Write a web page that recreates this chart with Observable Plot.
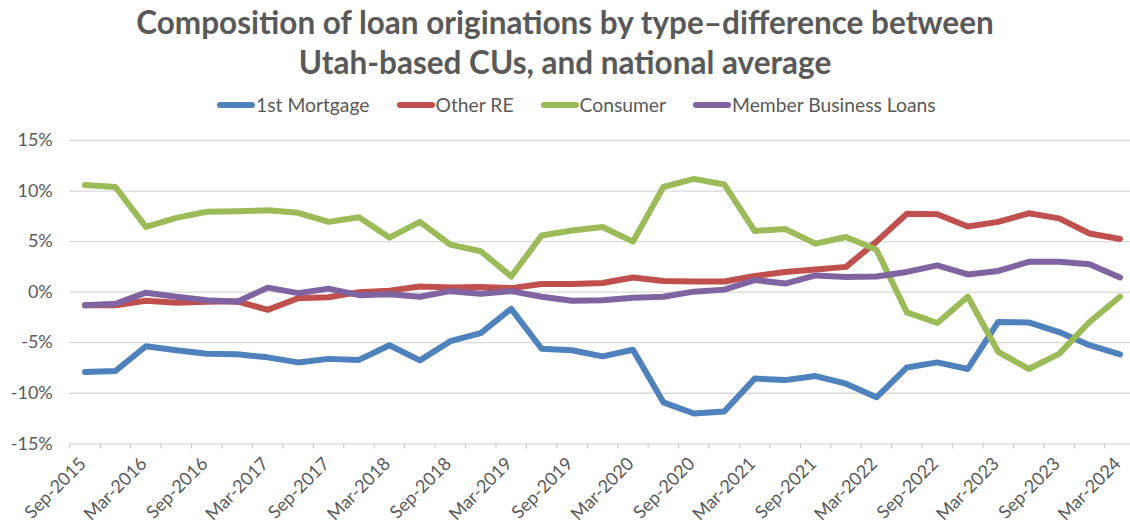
<!DOCTYPE html>
<html>
<head>
<meta charset="utf-8">
<script src="https://cdn.jsdelivr.net/npm/d3@7"></script>
<script src="https://cdn.jsdelivr.net/npm/@observablehq/plot@0.6"></script>
<style>
  html, body { margin: 0; padding: 0; background: #fff; }
  #wrap { position: relative; width: 1130px; height: 525px; overflow: hidden; font-family: Lato, "Open Sans", sans-serif; }
  #title { position: absolute; left: 0; top: 2px; width: 1130px; text-align: center; font-weight: 700; font-size: 31.5px; line-height: 40px; color: #595959; }
  #legend { position: absolute; left: 217px; top: 93px; display: flex; align-items: center; font-size: 19.3px; color: #595959; white-space: nowrap; }
  .item { display: flex; align-items: center; margin-right: 27px; }
  .sw { width: 38px; height: 6px; border-radius: 3px; margin-right: 1px; }
  #plot { position: absolute; left: 0; top: 120px; }
</style>
</head>
<body>
<div id="wrap">
  <div id="title">Composition of loan originations by type–difference between<br>Utah-based CUs, and national average</div>
  <div id="legend"></div>
  <div id="plot"></div>
</div>
<script>
const categories = ["Sep-2015","Dec-2015","Mar-2016","Jun-2016","Sep-2016","Dec-2016","Mar-2017","Jun-2017","Sep-2017","Dec-2017","Mar-2018","Jun-2018","Sep-2018","Dec-2018","Mar-2019","Jun-2019","Sep-2019","Dec-2019","Mar-2020","Jun-2020","Sep-2020","Dec-2020","Mar-2021","Jun-2021","Sep-2021","Dec-2021","Mar-2022","Jun-2022","Sep-2022","Dec-2022","Mar-2023","Jun-2023","Sep-2023","Dec-2023","Mar-2024"];
const seriesNames = ["1st Mortgage", "Other RE", "Consumer", "Member Business Loans"];
const seriesColors = ["#4f81bd", "#c0504d", "#9bbb59", "#8064a2"];
const mortgage = [-7.9,-7.8,-5.35,-5.75,-6.1,-6.15,-6.45,-6.95,-6.6,-6.7,-5.25,-6.75,-4.85,-4.05,-1.65,-5.6,-5.75,-6.35,-5.7,-10.9,-12.0,-11.8,-8.55,-8.7,-8.3,-9.05,-10.4,-7.45,-6.95,-7.6,-2.95,-3.0,-3.95,-5.25,-6.15];
const otherRE = [-1.3,-1.3,-0.85,-1.05,-0.95,-0.9,-1.75,-0.6,-0.5,0.0,0.15,0.55,0.45,0.5,0.4,0.8,0.8,0.9,1.45,1.1,1.05,1.05,1.6,2.0,2.25,2.5,5.0,7.75,7.7,6.5,6.95,7.8,7.3,5.8,5.25];
const consumer = [10.6,10.4,6.45,7.35,7.95,8.0,8.1,7.85,6.95,7.4,5.4,6.95,4.7,4.05,1.55,5.6,6.1,6.45,5.0,10.4,11.2,10.65,6.05,6.25,4.8,5.45,4.2,-2.0,-3.05,-0.45,-5.9,-7.6,-6.1,-2.95,-0.45];
const mbl = [-1.3,-1.15,-0.05,-0.45,-0.8,-0.95,0.45,-0.1,0.35,-0.3,-0.2,-0.45,0.1,-0.15,0.1,-0.45,-0.85,-0.8,-0.55,-0.45,0.05,0.25,1.2,0.85,1.65,1.5,1.55,2.0,2.65,1.75,2.1,3.0,3.0,2.75,1.45];
const yTicks = [-15, -10, -5, 0, 5, 10, 15];

const seriesValues = [mortgage, otherRE, consumer, mbl];
const data = seriesNames.flatMap((s, k) => seriesValues[k].map((v, i) => ({series: s, i, v})));
const idx = categories.map((_, i) => i);
const labelIdx = idx.filter(i => i % 2 === 0);
const boundaries = categories.map((_, i) => i - 0.5).concat([categories.length - 0.5]);
const x0 = -0.5, x1 = categories.length - 0.5;

// legend
const lg = document.getElementById("legend");
seriesNames.forEach((s, k) => {
  const it = document.createElement("div");
  it.className = "item";
  it.innerHTML = `<span class="sw" style="background:${seriesColors[k]}"></span><span>${s}</span>`;
  lg.appendChild(it);
});

const chart = Plot.plot({
  width: 1130,
  height: 405,
  marginLeft: 69.3,
  marginRight: 0,
  marginTop: 20,
  marginBottom: 81.7,
  style: {fontFamily: "Lato, 'Open Sans', sans-serif", background: "transparent", overflow: "visible"},
  x: {type: "linear", domain: [x0, x1], range: [69.3, 69.3 + 30.44 * categories.length], axis: null},
  y: {domain: [-15, 15], axis: null},
  color: {domain: seriesNames, range: seriesColors},
  marks: [
    Plot.ruleY(yTicks, {stroke: "#d9d9d9", strokeWidth: 1.3}),
    Plot.ruleX(boundaries, {x: d => d, y1: -15, y2: -15.5, stroke: "#d0d0d0", strokeWidth: 1.3}),
    Plot.text(yTicks, {x: x0, y: d => d, text: d => `${d}%`, textAnchor: "end", dx: -17, fontSize: 18, fill: "#595959"}),
    Plot.text(labelIdx, {x: d => d, y: () => -15, text: d => categories[d], rotate: -45, textAnchor: "end", lineAnchor: "bottom", dx: 2, dy: 21, fontSize: 18, fill: "#595959"}),
    Plot.line(data, {x: "i", y: "v", z: "series", stroke: "series", strokeWidth: 6, strokeLinejoin: "round", strokeLinecap: "round"})
  ]
});
document.getElementById("plot").appendChild(chart);
</script>
</body>
</html>
